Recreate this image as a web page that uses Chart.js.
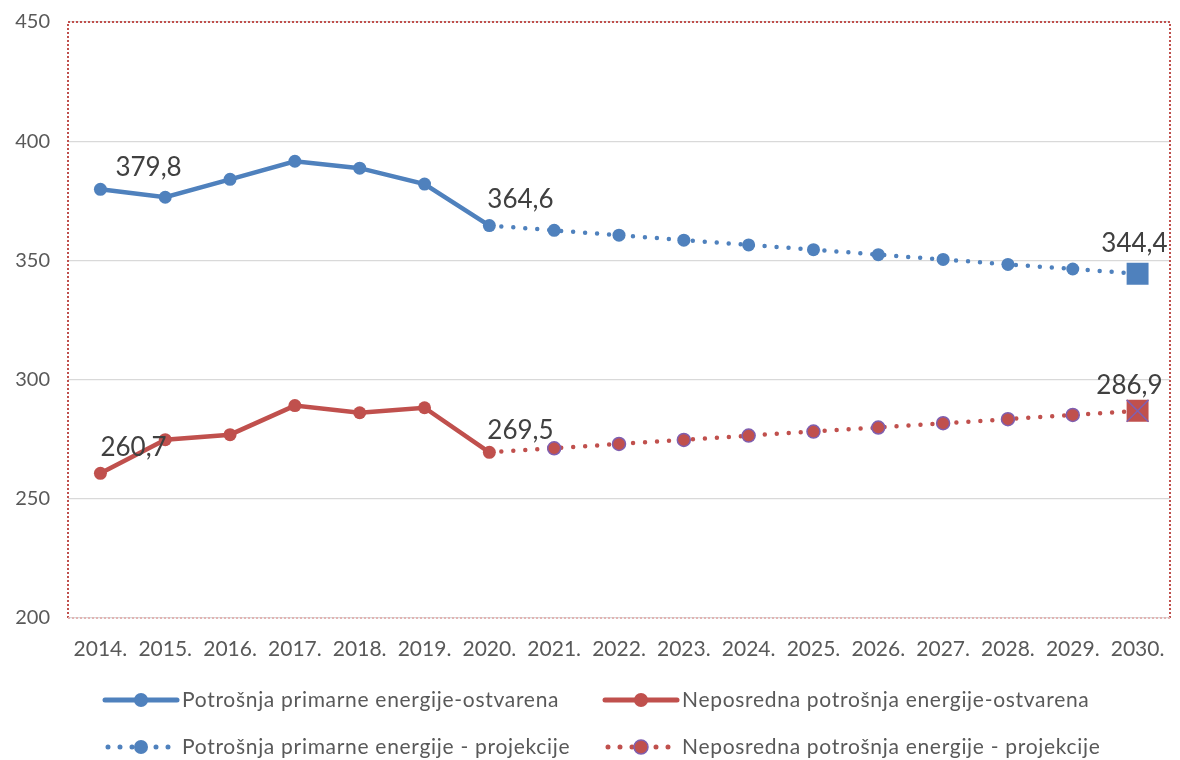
<!DOCTYPE html>
<html>
<head>
<meta charset="utf-8">
<script src="https://cdn.jsdelivr.net/npm/chart.js@4"></script>
<style>
  html, body { margin: 0; background: #fff; }
</style>
</head>
<body>
<canvas id="chart" width="1180" height="760"></canvas>
<script>
// Podaci (očitano sa grafikona)
const years = ["2014.", "2015.", "2016.", "2017.", "2018.", "2019.", "2020.", "2021.", "2022.",
    "2023.", "2024.", "2025.", "2026.", "2027.", "2028.", "2029.", "2030."];

// ostvarene vrijednosti 2014.-2020.
const primarnaOstvarena = [379.8, 376.5, 384.0, 391.6, 388.7, 382.0, 364.6];
const neposrednaOstvarena = [260.7, 274.8, 276.9, 289.1, 286.1, 288.2, 269.5];

// projekcije 2020.-2030.
const primarnaProjekcija = [364.6, 362.6, 360.6, 358.5, 356.5, 354.5, 352.4, 350.4, 348.3, 346.4, 344.4];
const neposrednaProjekcija = [269.5, 271.2, 273.0, 274.7, 276.5, 278.2, 279.9, 281.7, 283.4, 285.2, 286.9];

const yTicks = [200, 250, 300, 350, 400, 450];

const BLUE = "#4f81bd";
const RED = "#c0504d";
const PURPLE = "#7f5fb0";
const TEXT = "#595959";

Chart.defaults.font.family = "Lato, 'Open Sans', sans-serif";

const start = years.length - primarnaProjekcija.length; // indeks 2020.
const pad = (arr, from) => years.map((_, i) => (i >= from && i - from < arr.length ? arr[i - from] : null));

const projRadius = years.map((_, i) => (i <= start ? 0 : i === years.length - 1 ? 15.5 : 6.5));
const projStyle = years.map((_, i) => (i === years.length - 1 ? "rect" : "circle"));
const lastOnly = years.map((_, i) => (i === years.length - 1 ? neposrednaProjekcija[neposrednaProjekcija.length - 1] : null));

const fmt = (v) => v.toFixed(1).replace(".", ",");

// okvir oko područja crtanja (točkasto)
const plotBorder = {
    id: "plotBorder",
    beforeDatasetsDraw(chart) {
        const { ctx, chartArea: a } = chart;
        ctx.save();
        ctx.lineWidth = 2;
        ctx.setLineDash([2, 2]);
        ctx.strokeStyle = RED;
        ctx.beginPath();
        ctx.moveTo(a.left, a.bottom);
        ctx.lineTo(a.left, a.top);
        ctx.lineTo(a.right, a.top);
        ctx.lineTo(a.right, a.bottom);
        ctx.stroke();
        ctx.strokeStyle = "#e2b4b3";
        ctx.beginPath();
        ctx.moveTo(a.left, a.bottom);
        ctx.lineTo(a.right, a.bottom);
        ctx.stroke();
        ctx.restore();
    },
};

// oznake vrijednosti
const labels = [
    { ds: 0, i: 0, dx: 15, dy: -22, align: "left" },
    { ds: 0, i: 6, dx: -2, dy: -26, align: "left" },
    { ds: 2, i: 16, dx: 30, dy: -30, align: "right" },
    { ds: 1, i: 0, dx: 0, dy: -26, align: "left" },
    { ds: 1, i: 6, dx: -2, dy: -22, align: "left" },
    { ds: 3, i: 16, dx: 25, dy: -25, align: "right" },
];
const valueLabels = {
    id: "valueLabels",
    afterDatasetsDraw(chart) {
        const { ctx } = chart;
        ctx.save();
        ctx.font = "26px Lato, sans-serif";
        ctx.fillStyle = "#404040";
        ctx.textBaseline = "middle";
        labels.forEach((l) => {
            const pt = chart.getDatasetMeta(l.ds).data[l.i];
            const v = chart.data.datasets[l.ds].data[l.i];
            ctx.textAlign = l.align;
            ctx.fillText(fmt(v), pt.x + l.dx, pt.y + l.dy);
        });
        ctx.restore();
    },
};

// legenda
const legendItems = [
    { x: 105, y: 700, color: BLUE, dotted: false, border: BLUE, text: "Potrošnja primarne energije-ostvarena" },
    { x: 605, y: 700, color: RED, dotted: false, border: RED, text: "Neposredna potrošnja energije-ostvarena" },
    { x: 105, y: 747, color: BLUE, dotted: true, border: BLUE, text: "Potrošnja primarne energije - projekcije" },
    { x: 605, y: 747, color: RED, dotted: true, border: PURPLE, text: "Neposredna potrošnja energije - projekcije" },
];
const customLegend = {
    id: "customLegend",
    afterDraw(chart) {
        const { ctx } = chart;
        ctx.save();
        legendItems.forEach((it) => {
            ctx.strokeStyle = it.color;
            ctx.lineCap = "round";
            ctx.lineWidth = 5;
            ctx.beginPath();
            if (it.dotted) {
                ctx.setLineDash([0, 12]);
                ctx.moveTo(it.x + 3, it.y);
                ctx.lineTo(it.x + 70, it.y);
            } else {
                ctx.setLineDash([]);
                ctx.moveTo(it.x, it.y);
                ctx.lineTo(it.x + 72, it.y);
            }
            ctx.stroke();
            ctx.setLineDash([]);
            ctx.beginPath();
            ctx.arc(it.x + 36, it.y, 7, 0, Math.PI * 2);
            ctx.fillStyle = it.color;
            ctx.fill();
            if (it.border !== it.color) {
                ctx.lineWidth = 1.5;
                ctx.strokeStyle = it.border;
                ctx.stroke();
            }
            ctx.fillStyle = TEXT;
            ctx.font = "21px Lato, sans-serif";
            ctx.letterSpacing = "0.7px";
            ctx.textAlign = "left";
            ctx.textBaseline = "middle";
            ctx.fillText(it.text, it.x + 77, it.y);
            ctx.letterSpacing = "0px";
        });
        ctx.restore();
    },
};

new Chart(document.getElementById("chart"), {
    type: "line",
    data: {
        labels: years,
        datasets: [
            {
                label: "Potrošnja primarne energije-ostvarena",
                data: pad(primarnaOstvarena, 0),
                borderColor: BLUE,
                backgroundColor: BLUE,
                borderWidth: 4.5,
                pointRadius: 6.5,
                pointBorderWidth: 0,
                tension: 0,
                order: 1,
            },
            {
                label: "Neposredna potrošnja energije-ostvarena",
                data: pad(neposrednaOstvarena, 0),
                borderColor: RED,
                backgroundColor: RED,
                borderWidth: 4.5,
                pointRadius: 6.5,
                pointBorderWidth: 0,
                tension: 0,
                order: 1,
            },
            {
                label: "Potrošnja primarne energije - projekcije",
                data: pad(primarnaProjekcija, start),
                borderColor: BLUE,
                backgroundColor: BLUE,
                borderWidth: 4.5,
                borderDash: [0, 12],
                borderCapStyle: "round",
                pointRadius: projRadius,
                pointStyle: projStyle,
                pointBorderWidth: 0,
                order: 2,
            },
            {
                label: "Neposredna potrošnja energije - projekcije",
                data: pad(neposrednaProjekcija, start),
                borderColor: RED,
                backgroundColor: RED,
                borderWidth: 4.5,
                borderDash: [0, 12],
                borderCapStyle: "round",
                pointRadius: projRadius,
                pointStyle: projStyle,
                pointBorderColor: PURPLE,
                pointBorderWidth: years.map((_, i) => (i === years.length - 1 ? 0 : 1.5)),
                order: 2,
            },
            {
                label: "x",
                data: lastOnly,
                showLine: false,
                pointStyle: "crossRot",
                pointRadius: 15.5,
                pointBorderColor: PURPLE,
                pointBorderWidth: 1.5,
                order: 0,
            },
        ],
    },
    options: {
        responsive: false,
        animation: false,
        events: [],
        layout: { autoPadding: false, padding: { top: 22, right: 10, bottom: 100, left: 0 } },
        plugins: {
            legend: { display: false },
            tooltip: { enabled: false },
        },
        scales: {
            x: {
                offset: true,
                grid: { display: false, drawTicks: false },
                border: { display: false },
                ticks: { color: TEXT, font: { size: 21 }, padding: 19, maxRotation: 0, autoSkip: false },
                afterFit: (s) => { s.height = 42; s.paddingLeft = 0; s.paddingRight = 0; },
            },
            y: {
                min: yTicks[0],
                max: yTicks[yTicks.length - 1],
                afterBuildTicks: (s) => { s.ticks = yTicks.map((v) => ({ value: v })); },
                grid: { color: "#d9d9d9", lineWidth: 1.3, drawTicks: false },
                border: { display: false },
                ticks: { color: TEXT, font: { size: 20 }, padding: 18 },
                afterFit: (s) => { s.width = 68; s.paddingTop = 0; s.paddingBottom = 0; },
            },
        },
    },
    plugins: [plotBorder, valueLabels, customLegend],
});
</script>
</body>
</html>
